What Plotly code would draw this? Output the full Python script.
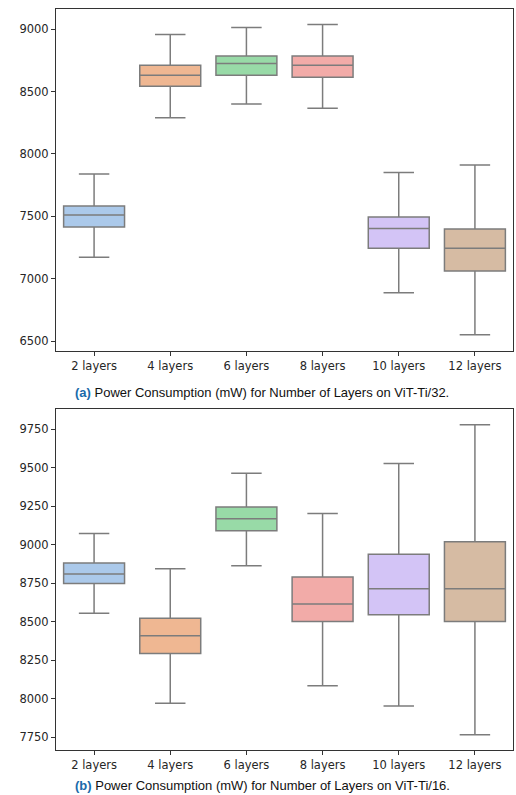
import colorsys
import plotly.graph_objects as go

categories = ["2 layers", "4 layers", "6 layers", "8 layers", "10 layers", "12 layers"]

# ViT-Ti/32 (top panel)
a_low = [7173, 8290, 8400, 8366, 6888, 6552]
a_q1 = [7416, 8542, 8630, 8614, 7246, 7064]
a_med = [7512, 8630, 8725, 8710, 7403, 7246]
a_q3 = [7584, 8710, 8784, 8784, 7496, 7400]
a_high = [7840, 8957, 9013, 9037, 7851, 7912]

# ViT-Ti/16 (bottom panel)
b_low = [8556, 7970, 8864, 8084, 7952, 7766]
b_q1 = [8749, 8294, 9091, 8502, 8545, 8502]
b_med = [8810, 8409, 9169, 8615, 8714, 8714]
b_q3 = [8881, 8522, 9245, 8790, 8939, 9019]
b_high = [9074, 8844, 9465, 9203, 9528, 9779]

a_ticks = [6500, 7000, 7500, 8000, 8500, 9000]
b_ticks = [7750, 8000, 8250, 8500, 8750, 9000, 9250, 9500, 9750]

pastel = ["#a1c9f4", "#ffb482", "#8de5a1", "#ff9f9b", "#d0bbff", "#debb9b"]


def desat(hexc, prop=0.75):
    r, g, b = [int(hexc[i:i + 2], 16) / 255 for i in (1, 3, 5)]
    h, l, s = colorsys.rgb_to_hls(r, g, b)
    r, g, b = colorsys.hls_to_rgb(h, l, s * prop)
    return "rgb(%d,%d,%d)" % (round(r * 255), round(g * 255), round(b * 255))


fills = [desat(c) for c in pastel]
line_col = "#7c7c7c"

fig = go.Figure()


def add_panel(low, q1, med, q3, high, xa, ya):
    for i, cat in enumerate(categories):
        fig.add_trace(go.Box(
            x=[cat], lowerfence=[low[i]], q1=[q1[i]], median=[med[i]],
            q3=[q3[i]], upperfence=[high[i]],
            fillcolor=fills[i], line=dict(color=line_col, width=1.5),
            width=0.8, whiskerwidth=0.5, boxpoints=False,
            showlegend=False, xaxis=xa, yaxis=ya, hoverinfo="y",
        ))


add_panel(a_low, a_q1, a_med, a_q3, a_high, "x", "y")
add_panel(b_low, b_q1, b_med, b_q3, b_high, "x2", "y2")

H = 795.0
W = 516.0
xdom = [56 / W, 513 / W]
tickfont = dict(family="DejaVu Sans", size=11.5, color="#262626")
axis_common = dict(showline=True, mirror=True, linecolor="#333333", linewidth=1,
                   ticks="outside", ticklen=4, tickcolor="#333333", tickwidth=1,
                   showgrid=False, zeroline=False, tickfont=tickfont)

fig.update_layout(
    width=516, height=795,
    margin=dict(l=0, r=0, t=0, b=0),
    paper_bgcolor="white", plot_bgcolor="white",
    boxmode="overlay",
    xaxis=dict(domain=xdom, anchor="y", categoryorder="array", categoryarray=categories,
               range=[-0.5, 5.5], **axis_common),
    yaxis=dict(domain=[1 - 350.7 / H, 1 - 9.3 / H], anchor="x", range=[6425, 9158],
               tickvals=a_ticks, ticktext=[str(t) for t in a_ticks], **axis_common),
    xaxis2=dict(domain=xdom, anchor="y2", categoryorder="array", categoryarray=categories,
                range=[-0.5, 5.5], **axis_common),
    yaxis2=dict(domain=[1 - 750 / H, 1 - 409.3 / H], anchor="x2", range=[7667, 9880],
                tickvals=b_ticks, ticktext=[str(t) for t in b_ticks], **axis_common),
)

cap_font = dict(family="Liberation Sans", size=13, color="#111111")
caps = [
    ("<span style='color:#1a6aaa'><b>(a)</b></span> Power Consumption (mW) for Number of Layers on ViT-Ti/32.", 392),
    ("<span style='color:#1a6aaa'><b>(b)</b></span> Power Consumption (mW) for Number of Layers on ViT-Ti/16.", 785),
]
for text, ypix in caps:
    fig.add_annotation(text=text, x=262 / W, y=1 - ypix / H, xref="paper", yref="paper",
                       showarrow=False, font=cap_font, xanchor="center", yanchor="middle")

fig.write_html("out.html")
